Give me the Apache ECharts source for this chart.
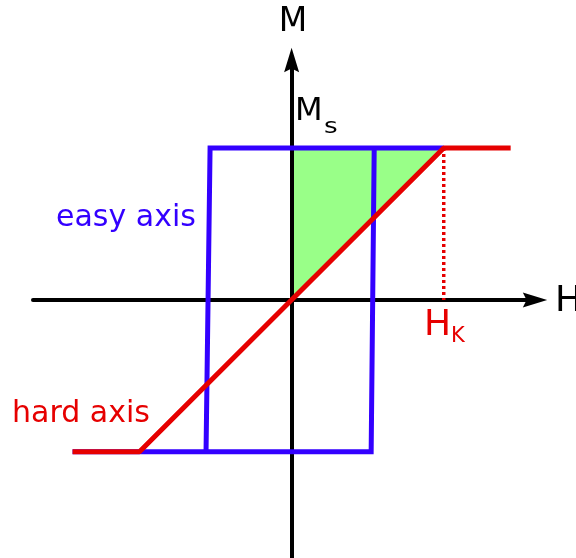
<!DOCTYPE html>
<html>
<head>
<meta charset="utf-8">
<script src="https://cdn.jsdelivr.net/npm/echarts@6/dist/echarts.min.js"></script>
<style>
  html, body { margin: 0; padding: 0; background: #fff; }
  #chart { width: 576px; height: 558px; }
</style>
</head>
<body>
<div id="chart"></div>
<script>
// H in units of H_K, M in units of M_s
const easyLoop = [[-1.44, -1], [0.523, -1], [0.543, 1], [1, 1], [-0.536, 1], [-0.5625, -1]];
const hardAxis = [[-1.44, -1], [-1, -1], [1, 1], [1.44, 1]];
const anisoArea = [[0, 0], [0, 1], [1, 1]];
const hkDrop = [[1, 1], [1, 0]];

const BLUE = '#3300ff';
const RED = '#e60000';
const FONT = '"DejaVu Sans", Verdana, sans-serif';
const ARROW = 'path://M8,0 L16,26 L8,22 L0,26 Z';

const chart = echarts.init(document.getElementById('chart'));

function axisLine() {
    return {
        onZero: true,
        symbol: ['none', ARROW],
        symbolSize: [15, 26],
        lineStyle: { color: '#000', width: 4 }
    };
}

function txt(text, x, y, size, color, align, sx) {
    return {
        type: 'text',
        x: x,
        y: y,
        z: 100,
        scaleX: sx || 1,
        style: {
            text: text,
            font: size + 'px ' + FONT,
            fill: color,
            align: align || 'left',
            verticalAlign: 'middle'
        }
    };
}

chart.setOption({
    animation: false,
    grid: { left: 33, top: 60, width: 502, height: 498 },
    xAxis: {
        type: 'value',
        min: -1.7,
        max: 1.6,
        axisLine: axisLine(),
        axisTick: { show: false },
        axisLabel: { show: false },
        splitLine: { show: false }
    },
    yAxis: {
        type: 'value',
        min: -1.7,
        max: 1.58,
        axisLine: axisLine(),
        axisTick: { show: false },
        axisLabel: { show: false },
        splitLine: { show: false }
    },
    series: [
        {
            // shaded anisotropy energy
            type: 'custom',
            z: -1,
            data: anisoArea,
            encode: { x: 0, y: 1 },
            renderItem: function (params, api) {
                if (params.dataIndex > 0) return null;
                return {
                    type: 'polygon',
                    shape: { points: anisoArea.map(p => api.coord(p)) },
                    style: { fill: '#99ff88' }
                };
            }
        },
        {
            name: 'easy axis',
            type: 'line',
            data: easyLoop,
            symbol: 'none',
            lineStyle: { color: BLUE, width: 5, join: 'miter' },
            z: 3
        },
        {
            name: 'hard axis',
            type: 'line',
            data: hardAxis,
            symbol: 'none',
            lineStyle: { color: RED, width: 5 },
            z: 4
        },
        {
            type: 'line',
            data: hkDrop,
            symbol: 'none',
            lineStyle: { color: RED, width: 3.5, type: [3, 3] },
            z: 4
        }
    ],
    graphic: [
        txt('M', 293, 22, 33, '#000', 'center'),
        txt('H', 555, 302, 36, '#000'),
        txt('M', 295, 112, 32, '#000'),
        txt('s', 324, 128, 21, '#000', 'left', 1.25),
        txt('H', 424, 326, 36, RED),
        txt('K', 451, 337, 21, RED),
        txt('easy axis', 56, 218, 30, BLUE),
        txt('hard axis', 12, 414, 30, RED)
    ]
});
</script>
</body>
</html>
